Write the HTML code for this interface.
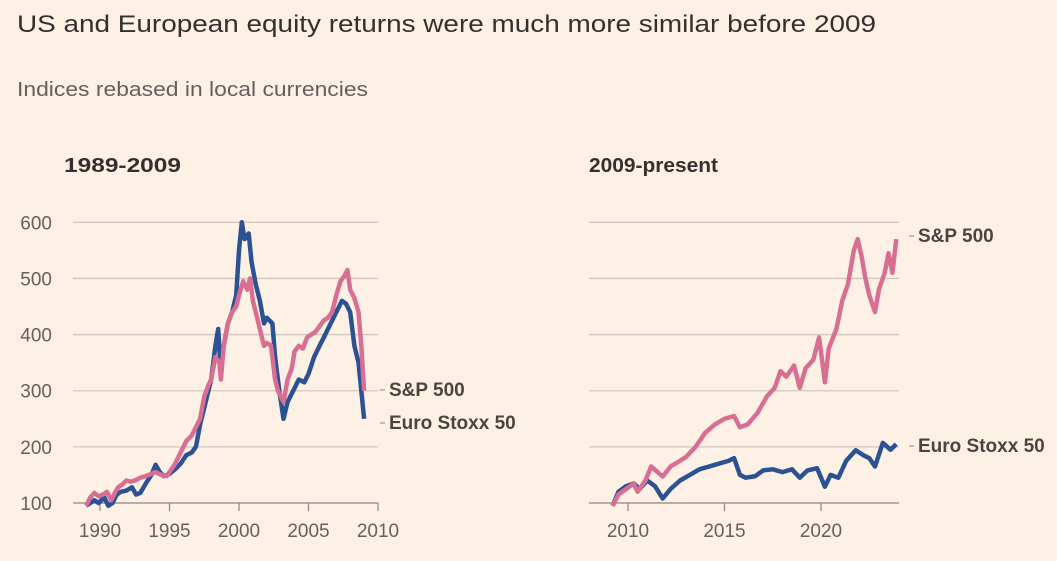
<!DOCTYPE html>
<html><head><meta charset="utf-8"><style>
html,body{margin:0;padding:0;background:#fdf1e6;}
svg{display:block;font-family:"Liberation Sans",sans-serif;}
</style></head><body>
<svg id="c" width="1057" height="561" viewBox="0 0 1057 561">
<rect width="1057" height="561" fill="#fdf1e6"/>
<text x="17" y="32" font-size="24" fill="#33302e" textLength="859" lengthAdjust="spacingAndGlyphs">US and European equity returns were much more similar before 2009</text>
<text x="17" y="96" font-size="20" fill="#66605c" textLength="351" lengthAdjust="spacingAndGlyphs">Indices rebased in local currencies</text>
<text x="64" y="172" font-size="20" font-weight="bold" fill="#33302e" textLength="117" lengthAdjust="spacingAndGlyphs">1989-2009</text>
<text x="589" y="172" font-size="20" font-weight="bold" fill="#33302e" textLength="129" lengthAdjust="spacingAndGlyphs">2009-present</text>
<g id="plots"></g>
</svg>
<script>
const yTicks=[100,200,300,400,500,600];
const leftXTicks=[1990,1995,2000,2005,2010];
const rightXTicks=[2010,2015,2020];
const leftSpYears=[1989.0,1989.3,1989.6,1989.9,1990.2,1990.5,1990.8,1991.0,1991.3,1991.6,1991.9,1992.2,1992.5,1992.9,1993.3,1993.7,1994.0,1994.4,1994.8,1995.0,1995.4,1995.8,1996.2,1996.6,1996.9,1997.2,1997.5,1997.8,1998.0,1998.3,1998.6,1998.7,1998.9,1999.2,1999.5,1999.8,2000.0,2000.3,2000.6,2000.8,2001.0,2001.3,2001.6,2001.8,2002.0,2002.3,2002.6,2002.8,2003.0,2003.2,2003.5,2003.8,2004.0,2004.3,2004.6,2004.9,2005.2,2005.5,2005.8,2006.1,2006.4,2006.7,2007.0,2007.3,2007.6,2007.8,2008.0,2008.3,2008.6,2008.8,2009.0];
const leftSpValues=[95,110,118,112,115,120,105,115,128,133,140,138,140,145,148,152,155,150,148,155,170,190,210,220,235,250,290,310,320,360,350,320,380,420,440,450,470,495,480,500,460,430,400,380,385,380,320,300,290,280,320,340,370,380,375,395,400,405,415,425,430,440,470,495,505,515,480,465,440,380,300];
const leftEuYears=[1989.0,1989.3,1989.6,1989.9,1990.3,1990.6,1990.9,1991.2,1991.5,1991.9,1992.3,1992.6,1992.9,1993.3,1993.7,1994.0,1994.3,1994.6,1995.0,1995.4,1995.8,1996.2,1996.6,1996.9,1997.2,1997.5,1997.8,1998.0,1998.3,1998.5,1998.7,1998.9,1999.2,1999.5,1999.8,2000.0,2000.2,2000.4,2000.7,2000.9,2001.2,2001.5,2001.8,2002.0,2002.4,2002.6,2002.9,2003.2,2003.5,2003.9,2004.3,2004.7,2005.0,2005.4,2005.8,2006.2,2006.6,2007.0,2007.4,2007.7,2008.0,2008.3,2008.6,2008.8,2009.0];
const leftEuValues=[95,100,105,100,110,95,100,115,120,122,128,115,118,135,150,168,155,148,152,160,170,185,190,200,240,270,300,320,380,410,330,380,420,440,470,550,600,570,580,530,490,460,420,430,420,360,300,250,280,300,320,315,330,360,380,400,420,440,460,455,440,380,350,300,250];
const rightSpYears=[2009.2,2009.5,2009.9,2010.3,2010.5,2010.9,2011.2,2011.8,2012.2,2012.5,2013.0,2013.5,2014.0,2014.5,2015.0,2015.5,2015.8,2016.2,2016.7,2017.2,2017.6,2017.9,2018.2,2018.6,2018.9,2019.2,2019.6,2019.9,2020.2,2020.4,2020.8,2021.1,2021.4,2021.7,2021.9,2022.1,2022.3,2022.5,2022.8,2023.0,2023.3,2023.5,2023.7,2023.9];
const rightSpValues=[95,115,125,135,120,140,165,147,165,171,182,200,225,240,250,255,235,240,260,290,305,335,325,345,305,340,355,395,315,375,410,460,490,550,570,540,500,470,440,480,510,545,510,570];
const rightEuYears=[2009.2,2009.5,2009.9,2010.3,2010.6,2011.0,2011.4,2011.8,2012.2,2012.7,2013.2,2013.7,2014.2,2014.7,2015.2,2015.5,2015.8,2016.1,2016.6,2017.0,2017.5,2018.0,2018.5,2018.9,2019.3,2019.8,2020.2,2020.5,2020.9,2021.3,2021.8,2022.2,2022.5,2022.8,2023.2,2023.6,2023.9];
const rightEuValues=[95,120,130,135,125,140,130,108,125,140,150,160,165,170,175,180,150,145,148,158,160,155,160,145,158,162,129,150,145,175,194,185,180,165,207,195,205];

const NS='http://www.w3.org/2000/svg';
const root=document.getElementById('plots');
const yPix=v=>503-(v-100)*0.5614;
function mk(tag,attrs,parent){const e=document.createElementNS(NS,tag);for(const k in attrs)e.setAttribute(k,attrs[k]);(parent||root).appendChild(e);return e;}
function panel(x0,x1,yr0,px0,pxPerYr,xticks,showY,name){
  const xPix=y=>px0+(y-yr0)*pxPerYr;
  const g=mk('g',{});
  
  
  yTicks.forEach(v=>{
    const l=mk('line',{x1:x0,x2:x1,y1:yPix(v),y2:yPix(v),stroke:v===100?'#8c8580':'#d1c7bf','stroke-width':1.3},g);
    
    
    if(showY){
      const t=mk('text',{x:52,y:yPix(v)+7,'text-anchor':'end','font-size':19,fill:'#66605c'},g);
      t.textContent=v;
      
      
    }
  });
  xticks.forEach(yr=>{
    const x=xPix(yr);
    const tk=mk('line',{x1:x,x2:x,y1:503,y2:511,stroke:'#8c8580','stroke-width':1.2},g);
    
    
    const t=mk('text',{x:x,y:537,'text-anchor':'middle','font-size':19,fill:'#66605c'},g);
    t.textContent=yr;
    
    
  });
  return {g,xPix};
}
function line(p,years,vals,color,name){
  const d=years.map((y,i)=>(i?'L':'M')+p.xPix(y).toFixed(1)+','+yPix(vals[i]).toFixed(1)).join('');
  const e=mk('path',{d:d,fill:'none',stroke:color,'stroke-width':4.5,'stroke-linejoin':'round'},p.g);
  
  
}
function label(g,x,y,txt,name){
  const tk=mk('line',{x1:x-9,x2:x-4,y1:y-6,y2:y-6,stroke:'#a39a93','stroke-width':1.2},g);
  
  
  const t=mk('text',{x:x,y:y,'font-size':19,'font-weight':'bold',fill:'#4a4541'},g);
  t.textContent=txt;
  
  
}
const L=panel(73,378,1990,100,13.9,leftXTicks,true,'left-panel');
line(L,leftEuYears,leftEuValues,'#2c5293','left-euro-stoxx-line');
line(L,leftSpYears,leftSpValues,'#d86f93','left-sp500-line');
label(L.g,389,396,'S&P 500','left-sp500-label');
label(L.g,389,429,'Euro Stoxx 50','left-euro-label');
const R=panel(589,899,2010,628,19.3,rightXTicks,false,'right-panel');
line(R,rightEuYears,rightEuValues,'#2c5293','right-euro-stoxx-line');
line(R,rightSpYears,rightSpValues,'#d86f93','right-sp500-line');
label(R.g,918,242,'S&P 500','right-sp500-label');
label(R.g,918,452,'Euro Stoxx 50','right-euro-label');
</script>
</body></html>
